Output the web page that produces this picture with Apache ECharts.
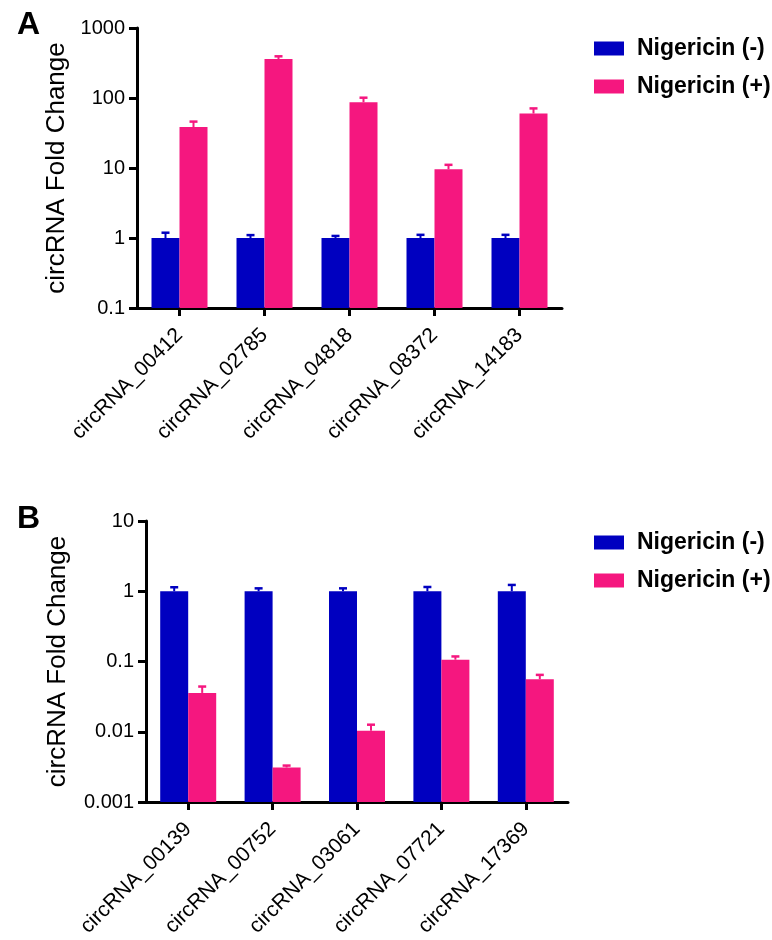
<!DOCTYPE html>
<html>
<head>
<meta charset="utf-8">
<script src="https://cdn.jsdelivr.net/npm/echarts@6/dist/echarts.min.js"></script>
<style>
  html, body { margin: 0; padding: 0; background: #fff; }
  #main { width: 772px; height: 940px; }
</style>
</head>
<body>
<div id="main"></div>
<script>
// panel A data
var catsA = ['circRNA_00412', 'circRNA_02785', 'circRNA_04818', 'circRNA_08372', 'circRNA_14183'];
var negA = [1, 1, 1, 1, 1];
var negErrA = [1.19, 1.10, 1.07, 1.11, 1.11];
var posA = [38.5, 360, 87, 9.6, 60];
var posErrA = [46, 394, 101, 11.1, 71];

// panel B data
var catsB = ['circRNA_00139', 'circRNA_00752', 'circRNA_03061', 'circRNA_07721', 'circRNA_17369'];
var negB = [1, 1, 1, 1, 1];
var negErrB = [1.14, 1.10, 1.10, 1.15, 1.23];
var posB = [0.0357, 0.0031, 0.0103, 0.106, 0.056];
var posErrB = [0.044, 0.0033, 0.0126, 0.118, 0.0645];

var ticksA = [0.1, 1, 10, 100, 1000];
var ticksB = [0.001, 0.01, 0.1, 1, 10];

var blue = '#0000c0';
var pink = '#f5177f';
var font = 'Arial, "Liberation Sans", sans-serif';
var barW = 28;

var myChart = echarts.init(document.getElementById('main'));

function errData(vals, errs) {
  return vals.map(function (v, i) { return [i, v, errs[i]]; });
}

// error bar: stem + cap above the bar
function errRender(offset, color) {
  return function (params, api) {
    var base = api.coord([api.value(0), api.value(1)]);
    var top = api.coord([api.value(0), api.value(2)]);
    var x = base[0] + offset;
    return {
      type: 'group',
      children: [
        { type: 'line', shape: { x1: x, y1: base[1], x2: x, y2: top[1] }, style: { stroke: color, lineWidth: 2 } },
        { type: 'line', shape: { x1: x - 4, y1: top[1], x2: x + 4, y2: top[1] }, style: { stroke: color, lineWidth: 2.5 } }
      ]
    };
  };
}

function yAxisOpt(idx, ticks, gap) {
  return {
    type: 'log', gridIndex: idx, logBase: 10,
    min: ticks[0], max: ticks[ticks.length - 1],
    startValue: ticks[0],
    name: 'circRNA Fold Change', nameLocation: 'middle', nameGap: gap,
    nameTextStyle: { fontFamily: font, fontSize: 26, color: '#000' },
    axisLine: { show: true, lineStyle: { color: '#000', width: 3 } },
    axisTick: { show: true, length: 8, lineStyle: { color: '#000', width: 3 } },
    minorTick: { show: false },
    splitLine: { show: false },
    axisLabel: {
      fontFamily: font, fontSize: 20, color: '#000', margin: 12,
      formatter: function (v) { return String(Number(v.toPrecision(3))); }
    }
  };
}

function xAxisOpt(idx, cats) {
  return {
    type: 'category', gridIndex: idx, data: cats,
    axisLine: { show: true, lineStyle: { color: '#000', width: 3 } },
    axisTick: { show: true, alignWithLabel: true, length: 8, lineStyle: { color: '#000', width: 3 } },
    axisLabel: { rotate: 45, fontFamily: font, fontSize: 21, color: '#000', margin: 24, interval: 0 }
  };
}

function legendOpt(top) {
  return {
    orient: 'vertical', left: 589, top: top,
    itemWidth: 30, itemHeight: 14, itemGap: 15,
    icon: 'rect',
    data: ['Nigericin (-)', 'Nigericin (+)'],
    textStyle: { fontFamily: font, fontSize: 23, fontWeight: 'bold', color: '#000', padding: [0, 0, 0, 8] }
  };
}

var option = {
  backgroundColor: '#fff',
  animation: false,
  title: [
    { text: 'A', left: 12, top: 4, textStyle: { fontFamily: font, fontSize: 32, fontWeight: 'bold', color: '#000' } },
    { text: 'B', left: 12, top: 498, textStyle: { fontFamily: font, fontSize: 32, fontWeight: 'bold', color: '#000' } }
  ],
  legend: [legendOpt(32), legendOpt(526)],
  grid: [
    { left: 137, top: 28, width: 425, height: 280, outerBoundsMode: 'none' },
    { left: 146, top: 521, width: 422, height: 281, outerBoundsMode: 'none' }
  ],
  xAxis: [xAxisOpt(0, catsA), xAxisOpt(1, catsB)],
  yAxis: [yAxisOpt(0, ticksA, 66), yAxisOpt(1, ticksB, 75)],
  series: [
    { name: 'Nigericin (-)', type: 'bar', xAxisIndex: 0, yAxisIndex: 0, data: negA, barWidth: barW, barGap: '0%', itemStyle: { color: blue } },
    { name: 'Nigericin (+)', type: 'bar', xAxisIndex: 0, yAxisIndex: 0, data: posA, barWidth: barW, barGap: '0%', itemStyle: { color: pink } },
    { name: 'Nigericin (-)', type: 'custom', xAxisIndex: 0, yAxisIndex: 0, data: errData(negA, negErrA), renderItem: errRender(-barW / 2, blue), z: 3 },
    { name: 'Nigericin (+)', type: 'custom', xAxisIndex: 0, yAxisIndex: 0, data: errData(posA, posErrA), renderItem: errRender(barW / 2, pink), z: 3 },
    { name: 'Nigericin (-)', type: 'bar', xAxisIndex: 1, yAxisIndex: 1, data: negB, barWidth: barW, barGap: '0%', itemStyle: { color: blue } },
    { name: 'Nigericin (+)', type: 'bar', xAxisIndex: 1, yAxisIndex: 1, data: posB, barWidth: barW, barGap: '0%', itemStyle: { color: pink } },
    { name: 'Nigericin (-)', type: 'custom', xAxisIndex: 1, yAxisIndex: 1, data: errData(negB, negErrB), renderItem: errRender(-barW / 2, blue), z: 3 },
    { name: 'Nigericin (+)', type: 'custom', xAxisIndex: 1, yAxisIndex: 1, data: errData(posB, posErrB), renderItem: errRender(barW / 2, pink), z: 3 }
  ]
};

myChart.setOption(option);
</script>
</body>
</html>
